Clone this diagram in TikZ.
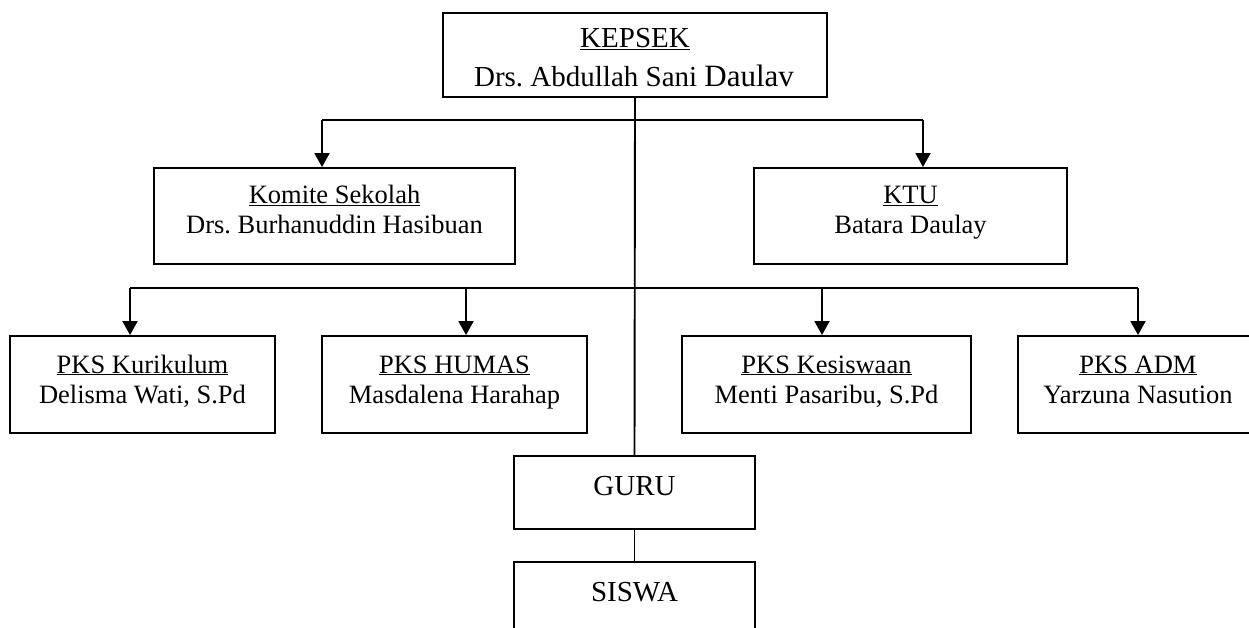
\documentclass[tikz,border=0pt]{standalone}
\usepackage{fontspec}
\setmainfont{Liberation Serif}
\frenchspacing
\usetikzlibrary{arrows.meta}
\tikzset{
  x=1pt, y=-1pt,
  box/.style={draw=black, line width=1.9pt, minimum width=#1, inner sep=0pt},
  conn/.style={draw=black, line width=1.9pt},
  arr/.style={conn, -{Triangle[width=15pt,length=14pt]}},
  big/.style={anchor=base, inner sep=0pt, font=\fontsize{29pt}{34pt}\selectfont\frenchspacing},
  small/.style={anchor=base, inner sep=0pt, font=\fontsize{26.5pt}{30pt}\selectfont\frenchspacing}
}
\begin{document}
\begin{tikzpicture}
\clip (0,0) rectangle (1249,628);
\fill[white] (0,0) rectangle (1249,628);

% boxes
\node[box=384pt, minimum height=84pt] (kep) at (635,55) {};
\node[box=361pt, minimum height=96pt] (kom) at (334.5,216) {};
\node[box=313pt, minimum height=96pt] (ktu) at (910.5,216) {};
\node[box=265pt, minimum height=97pt] (kur) at (142.5,384.5) {};
\node[box=265pt, minimum height=97pt] (hum) at (454.5,384.5) {};
\node[box=289pt, minimum height=97pt] (kes) at (826.5,384.5) {};
\node[box=240pt, minimum height=97pt] (adm) at (1138,384.5) {};
\node[box=241pt, minimum height=73pt] (guru) at (634.5,492.5) {};
\node[box=241pt, minimum height=73pt] (sis) at (634.5,598.5) {};

% texts
\node[big] (kepA) at (635,48) {\underline{KEPSEK}};
\node[big] (kepB) at (634,87) {Drs. Abdullah Sani {\fontsize{31pt}{34pt}\selectfont Daulav}};
\node[small] (komA) at (334.5,204) {\underline{Komite Sekolah}};
\node[small] (komB) at (334.5,234) {Drs. Burhanuddin Hasibuan};
\node[small] (ktuA) at (910.5,204) {\underline{KTU}};
\node[small] (ktuB) at (910.5,234) {Batara Daulay};
\node[small] (kurA) at (142.5,373) {\underline{PKS Kurikulum}};
\node[small] (kurB) at (142.5,403) {Delisma Wati, S.Pd};
\node[small] (humA) at (454.5,373) {\underline{PKS HUMAS}};
\node[small] (humB) at (454.5,403) {Masdalena Harahap};
\node[small] (kesA) at (826.5,373) {\underline{PKS Kesiswaan}};
\node[small] (kesB) at (826.5,403) {Menti Pasaribu, S.Pd};
\node[small] (admA) at (1138,373) {\underline{PKS ADM}};
\node[small] (admB) at (1138,403) {Yarzuna Nasution};
\node[big] (guruT) at (634.5,495) {GURU};
\node[big] (sisT) at (634.5,601) {SISWA};

% junction coordinates
\coordinate (t1) at (322,120);
\coordinate (t2) at (923,120);
\coordinate (b1) at (130,288);
\coordinate (b2) at (466,288);
\coordinate (b3) at (822,288);
\coordinate (b4) at (1138,288);

% connectors
\draw[conn] (kep.south) -- (guru.north);
\draw[conn] (guru.south) -- (sis.north);
\draw[conn] (t1) -- (t2);
\draw[conn] (b1) -- (b4);
\draw[arr] (t1) -- (t1 |- kom.north);
\draw[arr] (t2) -- (t2 |- ktu.north);
\draw[arr] (b1) -- (b1 |- kur.north);
\draw[arr] (b2) -- (b2 |- hum.north);
\draw[arr] (b3) -- (b3 |- kes.north);
\draw[arr] (b4) -- (b4 |- adm.north);
\end{tikzpicture}
\end{document}
